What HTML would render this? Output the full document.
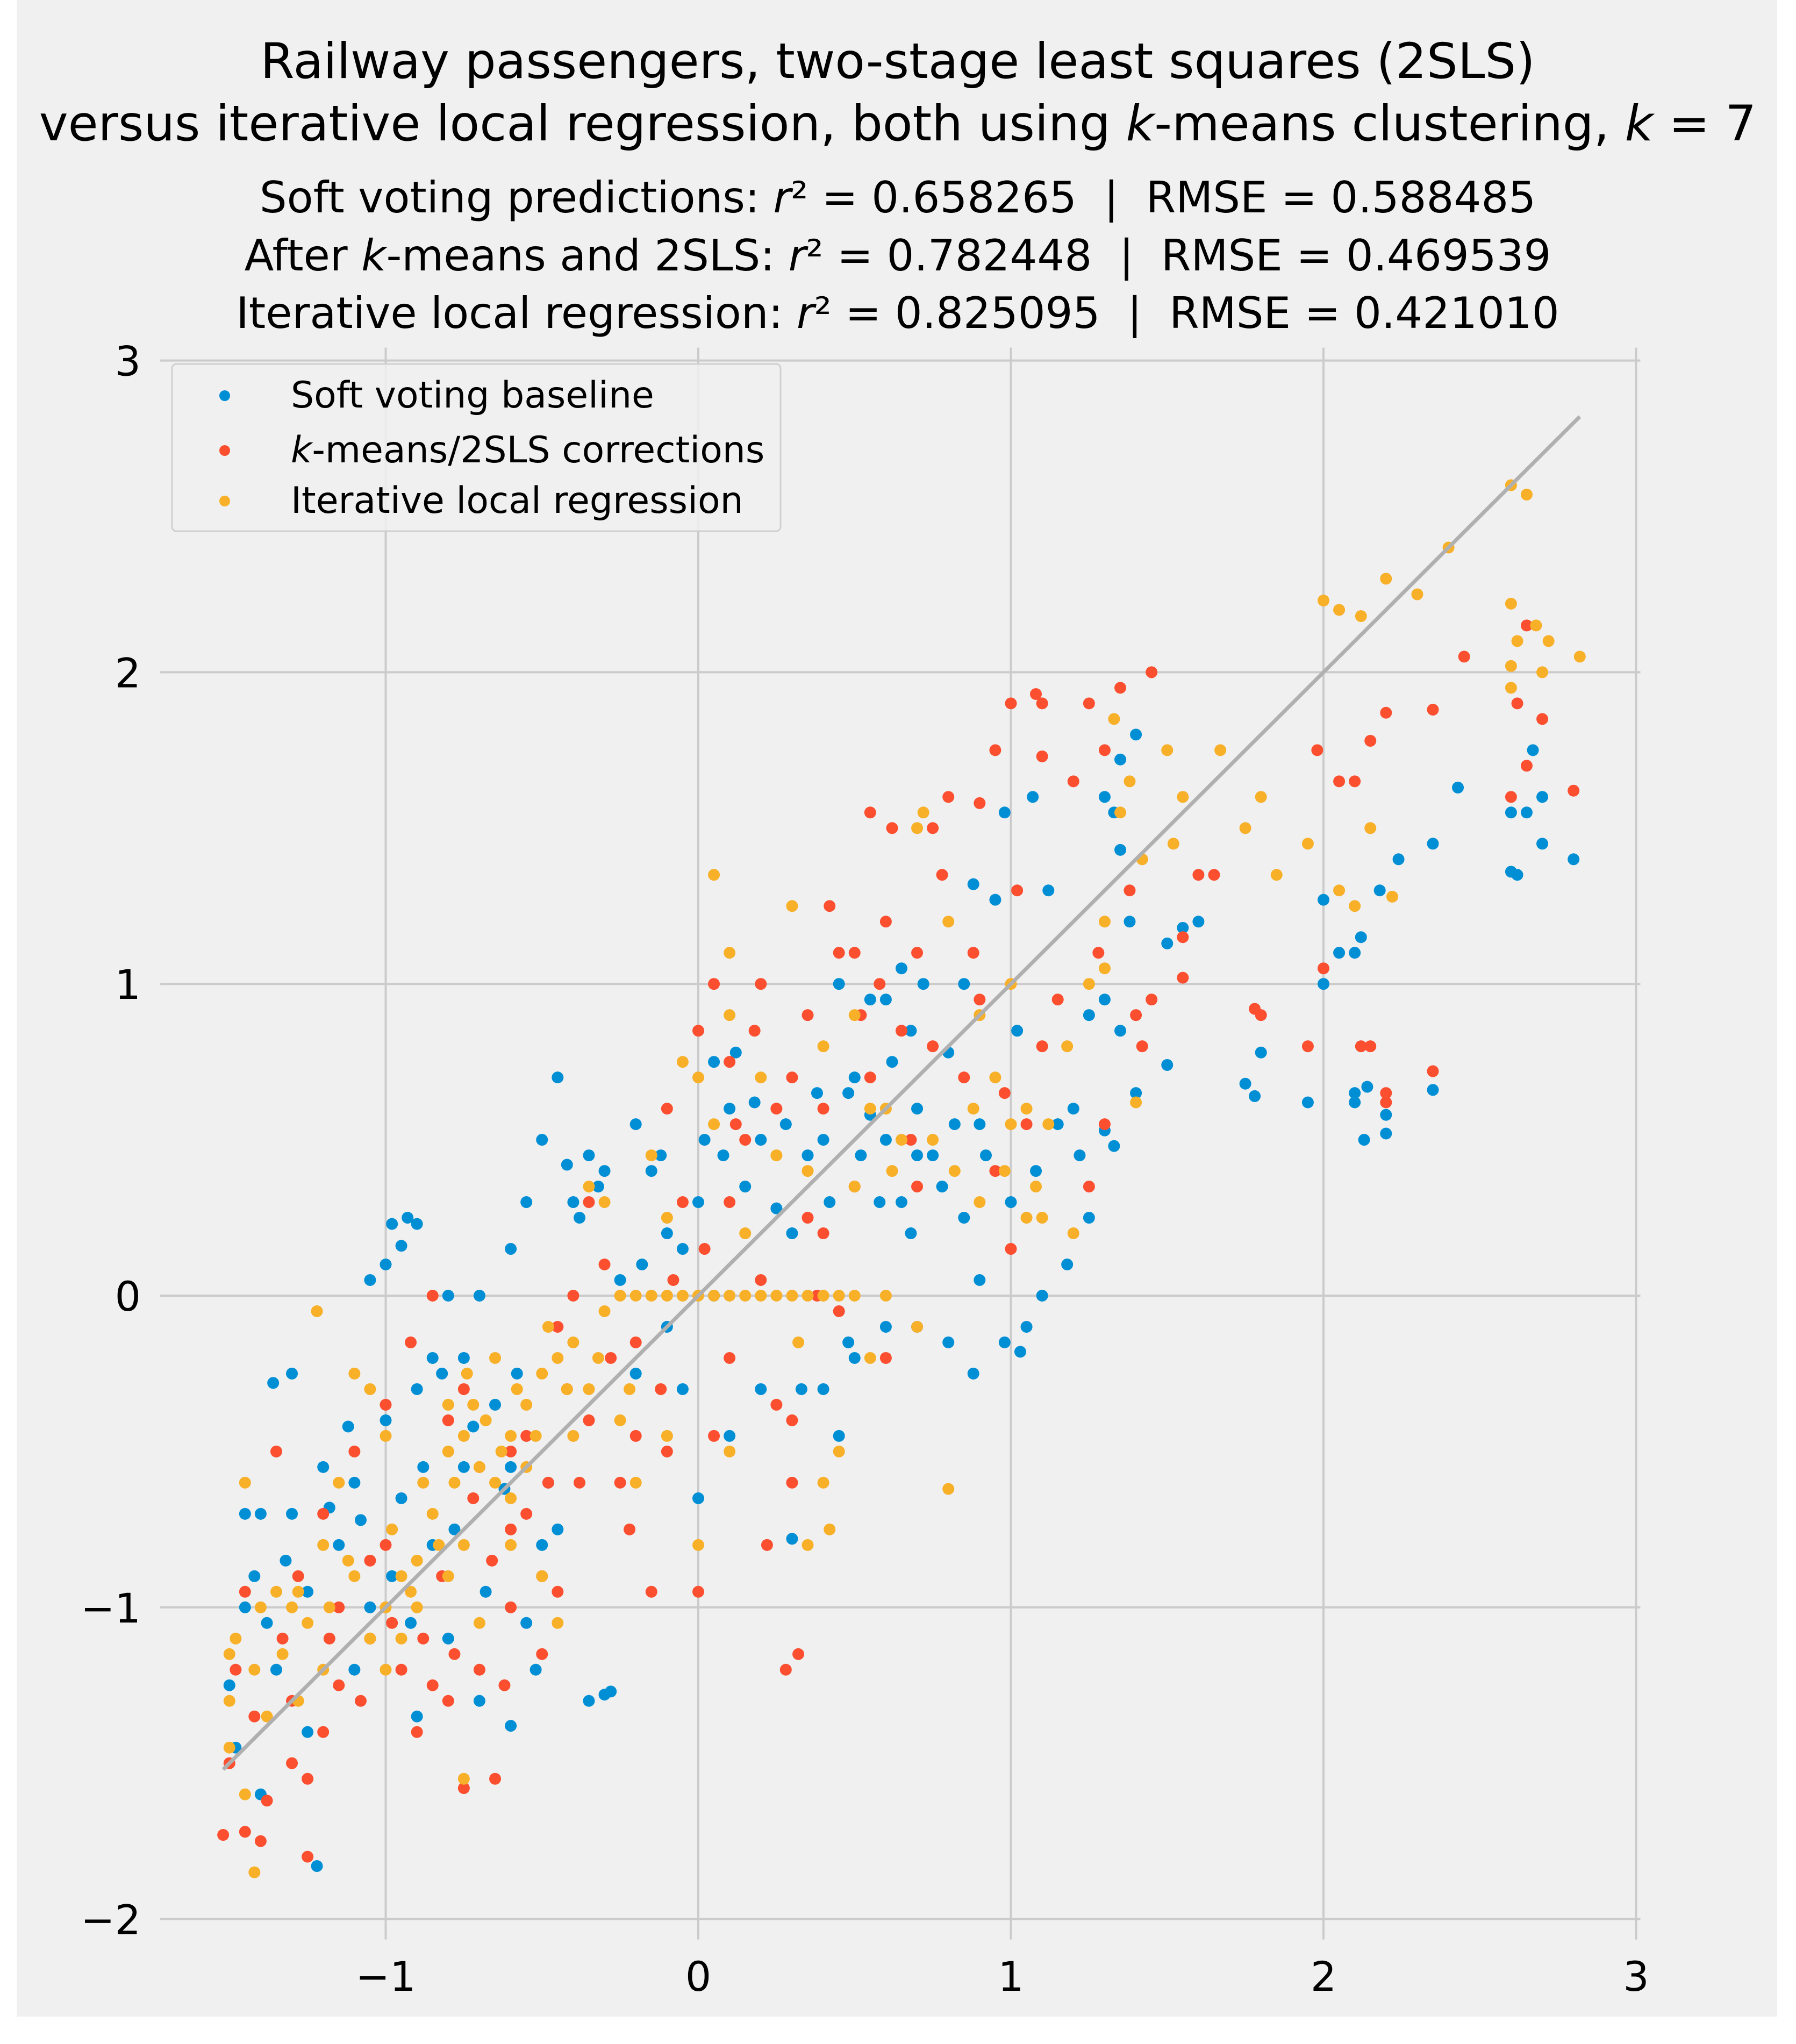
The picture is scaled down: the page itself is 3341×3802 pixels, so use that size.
<!DOCTYPE html>
<html><head><meta charset="utf-8"><style>
html,body{margin:0;padding:0;background:#fff;}
svg{display:block;font-family:"DejaVu Sans","Liberation Sans",sans-serif;}
text{white-space:pre;}
</style></head><body>
<svg id="chart" width="3341" height="3802" viewBox="0 0 3341 3802" xmlns="http://www.w3.org/2000/svg">
<rect x="31" y="0" width="3275" height="3751" fill="#f0f0f0"/>
<g text-anchor="middle" fill="#000">
<text x="1670" y="145" font-size="91">Railway passengers, two-stage least squares (2SLS)</text>
<text x="1670" y="261" font-size="91">versus iterative local regression, both using <tspan font-style="italic">k</tspan>-means clustering, <tspan font-style="italic">k</tspan> = 7</text>
<text x="1670" y="395" font-size="80">Soft voting predictions: <tspan font-style="italic">r</tspan>² = 0.658265  |  RMSE = 0.588485</text>
<text x="1670" y="503" font-size="80">After <tspan font-style="italic">k</tspan>-means and 2SLS: <tspan font-style="italic">r</tspan>² = 0.782448  |  RMSE = 0.469539</text>
<text x="1670" y="610" font-size="80">Iterative local regression: <tspan font-style="italic">r</tspan>² = 0.825095  |  RMSE = 0.421010</text>
</g>
<g id="grid"></g>
<g id="ticks"></g>
<g id="marks"></g>
<g>
<rect x="320" y="677" width="1132" height="311" rx="8" fill="#f0f0f0" fill-opacity="0.85" stroke="#d0d0d0" stroke-width="3"/>
<circle cx="418" cy="736" r="10" fill="#008fd5"/>
<text x="541" y="758" font-size="68">Soft voting baseline</text>
<circle cx="418" cy="838" r="10" fill="#fc4f30"/>
<text x="541" y="860" font-size="68"><tspan font-style="italic">k</tspan>-means/2SLS corrections</text>
<circle cx="418" cy="932" r="10" fill="#f7b028"/>
<text x="541" y="954" font-size="68">Iterative local regression</text>
</g>
</svg>
<script>
const xTicks=[-1,0,1,2,3];
const yTicks=[-2,-1,0,1,2,3];
const xTickLabels=["−1","0","1","2","3"];
const yTickLabels=["−2","−1","0","1","2","3"];
const diagonal=[-1.52,2.82];
const softVoting=[[-1.05,0.05],[-1.0,0.1],[-0.98,0.23],[-0.95,0.16],[-0.93,0.25],[-0.9,0.23],[-1.3,-0.25],[-1.36,-0.28],[2.6,1.36],[2.62,1.35],[2.6,1.55],[2.65,1.55],[2.7,1.6],[2.8,1.4],[2.7,1.45],[2.67,1.75],[2.43,1.63],[2.35,1.45],[2.1,1.1],[2.1,0.65],[2.13,0.5],[2.2,0.52],[2.2,0.58],[2.14,0.67],[2.35,0.66],[2.1,0.62],[2.0,1.0],[1.95,0.62],[2.0,1.27],[2.05,1.1],[2.12,1.15],[2.18,1.3],[2.24,1.4],[1.8,0.78],[1.78,0.64],[1.75,0.68],[1.6,1.2],[1.5,1.13],[1.55,1.18],[1.5,0.74],[1.4,1.8],[1.3,1.6],[1.33,1.55],[1.35,1.72],[1.35,1.43],[1.38,1.2],[1.4,0.65],[1.33,0.48],[1.3,0.53],[1.25,0.25],[1.12,1.3],[1.07,1.6],[0.98,1.55],[0.95,1.27],[0.88,1.32],[0.85,1.0],[0.8,0.78],[0.72,1.0],[0.65,1.05],[0.6,0.95],[0.62,0.75],[0.55,0.58],[0.5,0.7],[0.45,1.0],[0.4,0.5],[0.42,0.3],[0.35,0.45],[0.3,0.2],[0.25,0.28],[0.15,0.35],[0.1,0.6],[0.05,0.75],[0.02,0.5],[0.0,0.3],[-0.05,0.15],[-0.1,0.2],[-0.15,0.4],[-0.2,0.55],[-0.3,0.4],[-0.35,0.45],[-0.45,0.7],[-0.5,0.5],[-0.55,0.3],[-0.6,0.15],[-0.7,0.0],[-0.75,-0.2],[-0.8,0.0],[-0.85,-0.2],[-0.9,-0.3],[-1.0,-0.4],[-1.1,-0.6],[-1.2,-0.55],[-1.3,-0.7],[-1.4,-0.7],[-1.45,-1.0],[-1.5,-1.25],[-1.48,-1.45],[-1.4,-1.6],[-1.22,-1.83],[-1.25,-1.4],[-1.1,-1.2],[-0.9,-1.35],[-0.8,-1.1],[-0.7,-1.3],[-0.6,-1.38],[-0.55,-1.05],[-0.5,-0.8],[-0.45,-0.75],[-0.35,-1.3],[-0.3,-1.28],[-0.28,-1.27],[0.0,-0.65],[0.1,-0.45],[0.2,-0.3],[0.3,-0.78],[0.4,-0.3],[0.45,-0.45],[0.5,-0.2],[0.6,-0.1],[0.7,-0.1],[0.8,-0.15],[0.88,-0.25],[0.98,-0.15],[1.03,-0.18],[1.05,-0.1],[1.1,0.0],[1.18,0.1],[1.0,0.3],[0.9,0.55],[0.75,0.45],[0.7,0.6],[0.6,0.5],[1.2,0.6],[1.25,0.9],[1.3,0.95],[1.35,0.85],[-0.1,-0.1],[-0.2,-0.25],[-0.05,-0.3],[0.05,0.0],[-0.25,0.05],[-0.4,0.3],[-0.6,-0.55],[-0.65,-0.35],[-0.75,-0.55],[-0.85,-0.8],[-0.95,-0.65],[-1.05,-1.0],[-1.15,-0.8],[-1.25,-0.95],[-1.35,-1.2],[-1.45,-0.7],[0.2,0.5],[0.12,0.78],[0.55,0.95],[0.48,0.65],[0.7,0.45],[0.9,0.05],[0.65,0.3],[-1.42,-0.9],[-1.38,-1.05],[-1.32,-0.85],[-1.18,-0.68],[-1.12,-0.42],[-1.08,-0.72],[-0.98,-0.9],[-0.92,-1.05],[-0.88,-0.55],[-0.82,-0.25],[-0.78,-0.75],[-0.72,-0.42],[-0.68,-0.95],[-0.62,-0.62],[-0.58,-0.25],[-0.52,-1.2],[-0.48,-0.6],[-0.42,0.42],[-0.38,0.25],[-0.32,0.35],[-0.18,0.1],[-0.12,0.45],[0.08,0.45],[0.18,0.62],[0.28,0.55],[0.38,0.65],[0.52,0.45],[0.58,0.3],[0.68,0.85],[0.78,0.35],[0.82,0.55],[0.92,0.45],[1.02,0.85],[1.08,0.4],[1.15,0.55],[1.22,0.45],[0.33,-0.3],[0.48,-0.15],[0.68,0.2],[0.85,0.25]];
const kmeans2sls=[[-1.52,-1.73],[-1.45,-1.72],[-1.4,-1.75],[-1.38,-1.62],[-1.3,-1.5],[-1.25,-1.55],[-1.2,-1.4],[-1.15,-1.25],[-1.05,-1.1],[-0.95,-1.2],[-0.85,-1.25],[-0.75,-1.58],[-0.8,-1.3],[-0.7,-1.2],[-0.6,-1.0],[-0.5,-0.9],[-0.45,-0.95],[-1.0,-0.8],[-1.1,-0.5],[-1.2,-0.7],[-1.35,-0.5],[-1.45,-0.95],[-0.92,-0.15],[-1.0,-0.35],[-0.8,-0.4],[-0.75,-0.3],[-0.7,-0.55],[-0.6,-0.5],[-0.55,-0.7],[-0.45,-0.1],[-0.4,0.0],[-0.35,-0.4],[-0.3,0.1],[-0.25,-0.6],[-0.2,-0.45],[-0.1,-0.5],[-0.05,0.3],[-0.1,0.6],[0.0,0.85],[0.05,1.0],[0.1,0.75],[0.15,0.5],[0.2,0.05],[0.22,-0.8],[0.3,-0.6],[0.28,-1.2],[0.32,-1.15],[0.0,-0.95],[-0.15,-0.95],[0.05,-0.45],[0.2,1.0],[0.3,0.7],[0.4,0.6],[0.45,1.1],[0.5,1.1],[0.6,1.2],[0.55,1.55],[0.62,1.5],[0.75,1.5],[0.8,1.6],[0.9,1.58],[0.95,1.75],[1.0,1.9],[1.08,1.93],[1.1,1.73],[1.2,1.65],[1.25,1.9],[1.3,1.75],[1.35,1.95],[1.45,2.0],[1.6,1.35],[1.65,1.35],[1.55,1.15],[1.55,1.02],[1.45,0.95],[1.4,0.9],[1.3,0.55],[1.25,0.35],[1.1,0.8],[1.05,0.55],[1.0,0.15],[0.95,0.4],[0.85,0.7],[0.75,0.8],[0.7,1.1],[0.65,0.85],[0.55,0.7],[0.4,0.2],[0.45,-0.05],[0.38,0.0],[0.3,-0.4],[0.6,-0.2],[0.5,0.35],[1.98,1.75],[2.05,1.65],[2.1,1.65],[2.15,1.78],[2.2,1.87],[2.35,1.88],[2.45,2.05],[2.6,1.6],[2.62,1.9],[2.65,2.15],[2.7,1.85],[2.8,1.62],[2.65,1.7],[1.78,0.92],[1.8,0.9],[1.95,0.8],[2.0,1.05],[2.12,0.8],[2.15,0.8],[2.2,0.65],[2.2,0.62],[2.35,0.72],[-1.5,-1.5],[-1.25,-1.8],[-1.3,-1.3],[-0.9,-1.4],[-0.5,-1.15],[-0.6,-0.75],[-0.2,-0.15],[0.1,0.3],[0.1,-0.2],[-0.35,0.3],[0.7,0.35],[0.9,0.95],[1.1,1.9],[-0.85,0.0],[-1.05,-0.85],[-1.15,-1.0],[-0.65,-1.55],[-1.48,-1.2],[-1.42,-1.35],[-1.33,-1.1],[-1.28,-0.9],[-1.18,-1.1],[-1.08,-1.3],[-0.98,-1.05],[-0.88,-1.1],[-0.82,-0.9],[-0.78,-1.15],[-0.72,-0.65],[-0.66,-0.85],[-0.62,-1.25],[-0.55,-0.45],[-0.48,-0.6],[-0.42,-0.3],[-0.38,-0.6],[-0.28,-0.2],[-0.22,-0.75],[-0.12,-0.3],[-0.08,0.05],[0.02,0.15],[0.12,0.55],[0.18,0.85],[0.25,0.6],[0.35,0.9],[0.42,1.25],[0.52,0.9],[0.58,1.0],[0.68,0.5],[0.78,1.35],[0.88,1.1],[0.98,0.65],[1.02,1.3],[1.15,0.95],[1.28,1.1],[1.38,1.3],[1.42,0.8],[0.25,-0.35],[0.35,0.25]];
const iterative=[[-1.42,-1.85],[-1.45,-1.6],[-1.5,-1.3],[-1.5,-1.15],[-1.45,-0.6],[-1.38,-1.35],[-1.3,-1.0],[-1.25,-1.05],[-1.22,-0.05],[-1.0,-0.45],[-1.05,-0.3],[-1.1,-0.9],[-1.0,-1.0],[-0.95,-0.9],[-0.9,-0.85],[-0.85,-0.7],[-0.8,-0.5],[-0.75,-0.45],[-0.72,-0.35],[-0.7,-0.55],[-0.65,-0.6],[-0.6,-0.45],[-0.55,-0.35],[-0.5,-0.25],[-0.45,-0.2],[-0.4,-0.15],[-0.35,-0.3],[-0.3,-0.05],[-0.25,0.0],[-0.2,0.0],[-0.15,0.0],[-0.1,0.0],[-0.05,0.0],[0.0,0.0],[0.05,0.0],[0.1,0.0],[0.15,0.0],[0.2,0.0],[0.25,0.0],[0.3,0.0],[0.35,0.0],[0.4,0.0],[0.45,0.0],[0.5,0.0],[0.55,-0.2],[0.45,-0.5],[0.4,-0.6],[0.42,-0.75],[0.35,-0.8],[0.8,-0.62],[0.7,-0.1],[0.1,-0.5],[0.0,-0.8],[0.05,1.35],[0.1,1.1],[0.1,0.9],[0.2,0.7],[0.35,0.4],[0.4,0.8],[0.5,0.9],[0.6,0.6],[0.65,0.5],[0.7,1.5],[0.72,1.55],[0.8,1.2],[0.9,0.9],[0.95,0.7],[1.0,1.0],[1.05,0.6],[1.08,0.35],[1.1,0.25],[1.2,0.2],[1.25,1.0],[1.3,1.2],[1.35,1.55],[1.33,1.85],[1.38,1.65],[1.42,1.4],[1.52,1.45],[1.5,1.75],[1.55,1.6],[1.67,1.75],[1.75,1.5],[1.8,1.6],[1.85,1.35],[1.95,1.45],[2.05,1.3],[2.1,1.25],[2.15,1.5],[2.22,1.28],[2.0,2.23],[2.05,2.2],[2.12,2.18],[2.2,2.3],[2.3,2.25],[2.4,2.4],[2.6,2.6],[2.65,2.57],[2.6,2.22],[2.62,2.1],[2.68,2.15],[2.72,2.1],[2.7,2.0],[2.82,2.05],[2.6,1.95],[2.6,2.02],[-1.5,-1.45],[-1.35,-0.95],[-1.2,-1.2],[-1.0,-1.2],[-0.95,-1.1],[-0.9,-1.0],[-0.8,-0.9],[-0.75,-0.8],[-0.7,-1.05],[-0.65,-0.2],[-0.6,-0.65],[-0.55,-0.55],[-0.5,-0.9],[-0.4,-0.45],[-0.35,0.35],[-0.3,0.3],[-0.25,-0.4],[-0.1,-0.45],[-0.05,0.75],[0.0,0.7],[-0.1,0.25],[-0.75,-1.55],[-1.15,-0.6],[-1.1,-0.25],[-0.8,-0.35],[0.3,1.25],[0.5,0.35],[0.9,0.3],[1.0,0.55],[1.3,1.05],[1.4,0.62],[-1.2,-0.8],[-1.28,-1.3],[-1.42,-1.2],[-0.45,-1.05],[-0.6,-0.8],[-0.2,-0.6],[-1.48,-1.1],[-1.4,-1.0],[-1.33,-1.15],[-1.28,-0.95],[-1.18,-1.0],[-1.12,-0.85],[-1.05,-1.1],[-0.98,-0.75],[-0.92,-0.95],[-0.88,-0.6],[-0.83,-0.8],[-0.78,-0.6],[-0.74,-0.25],[-0.68,-0.4],[-0.63,-0.5],[-0.58,-0.3],[-0.52,-0.45],[-0.48,-0.1],[-0.42,-0.3],[-0.32,-0.2],[-0.22,-0.3],[-0.15,0.45],[0.05,0.55],[0.15,0.2],[0.25,0.45],[0.55,0.6],[0.62,0.4],[0.75,0.5],[0.82,0.4],[0.88,0.6],[0.98,0.4],[1.05,0.25],[1.12,0.55],[1.18,0.8],[0.6,0.0],[0.32,-0.15]];

const NS="http://www.w3.org/2000/svg";
const X0=1299, XU=581.5, Y0=2410, YU=579.8;
function sx(v){return X0+v*XU;}
function sy(v){return Y0-v*YU;}
const axLeft=sx(-1.68), axRight=sx(3), axTop=sy(3), axBottom=sy(-2);
function mk(tag,attrs,parent){const e=document.createElementNS(NS,tag);for(const k in attrs)e.setAttribute(k,attrs[k]);parent.appendChild(e);return e;}
const gridG=document.getElementById('grid'), ticksG=document.getElementById('ticks'), marksG=document.getElementById('marks');
xTicks.forEach((t,i)=>{
  const l=mk('line',{x1:sx(t),x2:sx(t),y1:axTop-24,y2:axBottom+38,stroke:'#cbcbcb','stroke-width':4},gridG);
  
  
  const tx=mk('text',{x:sx(t),y:3703,'font-size':76,'text-anchor':'middle',fill:'#000'},ticksG);
  tx.textContent=xTickLabels[i];
  
  
});
yTicks.forEach((t,i)=>{
  const l=mk('line',{x1:axLeft-24,x2:axRight+8,y1:sy(t),y2:sy(t),stroke:'#cbcbcb','stroke-width':4},gridG);
  
  
  const tx=mk('text',{x:262,y:sy(t)+28,'font-size':76,'text-anchor':'end',fill:'#000'},ticksG);
  tx.textContent=yTickLabels[i];
  
  
});
function drawSeries(data,color,name){
  const g=mk('g',{},marksG);
  
  
  data.forEach(p=>{
    const c=mk('circle',{cx:sx(p[0]),cy:sy(p[1]),r:11,fill:color},g);
    
    
  });
}
drawSeries(softVoting,'#008fd5','series-soft-voting');
drawSeries(kmeans2sls,'#fc4f30','series-kmeans-2sls');
drawSeries(iterative,'#f7b028','series-iterative');
const dl=mk('line',{x1:sx(diagonal[0]),y1:sy(diagonal[0]),x2:sx(diagonal[1]),y2:sy(diagonal[1]),stroke:'#b0b0b0','stroke-width':7},marksG);


</script>
</body></html>
